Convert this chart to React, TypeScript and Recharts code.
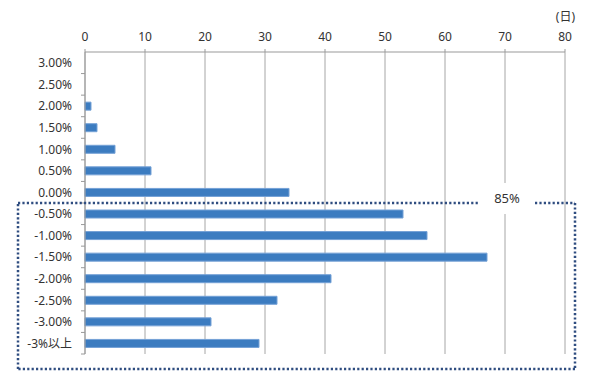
import { BarChart, Bar, XAxis, YAxis, CartesianGrid } from 'recharts';

const categories = ['3.00%', '2.50%', '2.00%', '1.50%', '1.00%', '0.50%', '0.00%', '-0.50%', '-1.00%', '-1.50%', '-2.00%', '-2.50%', '-3.00%', '-3%以上'];
const days = [0, 0, 1, 2, 5, 11, 34, 53, 57, 67, 41, 32, 21, 29];
const xTicks = [0, 10, 20, 30, 40, 50, 60, 70, 80];
const unitLabel = '(日)';
const shareLabel = '85%';

const W = 590;
const H = 381;
const PLOT_TOP = 52;
const PLOT_BOTTOM = 354;
const PLOT_LEFT = 85;
const PLOT_RIGHT = 565;
const Y_AXIS_W = 80;
const X_AXIS_H = 30;
const FONT = "'Noto Sans', 'Noto Sans CJK JP', sans-serif";

const halfBand = (PLOT_BOTTOM - PLOT_TOP) / categories.length / 2;

const chartData = categories.map((name, i) => ({ name, value: days[i] }));

function CategoryTick({ x, y, payload }: any) {
  return (
    <g>
      <text x={x - 13} y={y} textAnchor="end" dominantBaseline="central" fontSize={12} fill="#333" fontFamily={FONT}>
        {payload.value}
      </text>
      <line x1={x - 4} x2={x} y1={y + halfBand} y2={y + halfBand} stroke="#999" />
    </g>
  );
}

export default function App() {
  // dotted box around the negative rows
  const boxLeft = 18;
  const boxRight = 575;
  const boxTop = 203;
  const boxBottom = 369;
  const gapLeft = 479;
  const gapRight = 535;

  return (
    <div style={{ position: 'absolute', left: 0, top: 0, width: W, height: H, background: '#fff', fontFamily: FONT }}>
      <BarChart
        width={W}
        height={H}
        data={chartData}
        layout="vertical"
        margin={{ top: PLOT_TOP - X_AXIS_H, right: W - PLOT_RIGHT, bottom: H - PLOT_BOTTOM, left: PLOT_LEFT - Y_AXIS_W }}
        barSize={8}
      >
        <CartesianGrid horizontal={false} stroke="#a6a6a6" />
        <XAxis
          type="number"
          orientation="top"
          domain={[0, 80]}
          ticks={xTicks}
          height={X_AXIS_H}
          tickSize={3}
          tickMargin={8}
          stroke="#999"
          tick={{ fontSize: 12, fill: '#333', fontFamily: FONT }}
          interval={0}
        />
        <YAxis
          type="category"
          dataKey="name"
          width={Y_AXIS_W}
          stroke="#999"
          tickLine={false}
          tickSize={0}
          tickMargin={0}
          interval={0}
          tick={<CategoryTick />}
        />
        <Bar dataKey="value" fill="#3c7cc0" stroke="#74a1d6" strokeWidth={1} isAnimationActive={false} />
      </BarChart>
      <svg width={W} height={H} style={{ position: 'absolute', left: 0, top: 0, pointerEvents: 'none' }}>
        <text x={575} y={16} textAnchor="end" dominantBaseline="central" fontSize={12} fill="#333" fontFamily={FONT}>
          {unitLabel}
        </text>
        <rect x={gapLeft + 1} y={183} width={gapRight - gapLeft - 2} height={31} fill="#fff" />
        <g stroke="#2f4d80" strokeWidth={2.5} strokeDasharray="2.2 2.2" fill="none">
          <line x1={boxLeft} y1={boxTop} x2={gapLeft} y2={boxTop} />
          <line x1={gapRight} y1={boxTop} x2={boxRight} y2={boxTop} />
          <line x1={boxRight} y1={boxTop} x2={boxRight} y2={boxBottom} />
          <line x1={boxRight} y1={boxBottom} x2={boxLeft} y2={boxBottom} />
          <line x1={boxLeft} y1={boxBottom} x2={boxLeft} y2={boxTop} />
        </g>
        <text x={507} y={198} textAnchor="middle" dominantBaseline="central" fontSize={13} fill="#333" fontFamily={FONT}>
          {shareLabel}
        </text>
      </svg>
    </div>
  );
}
